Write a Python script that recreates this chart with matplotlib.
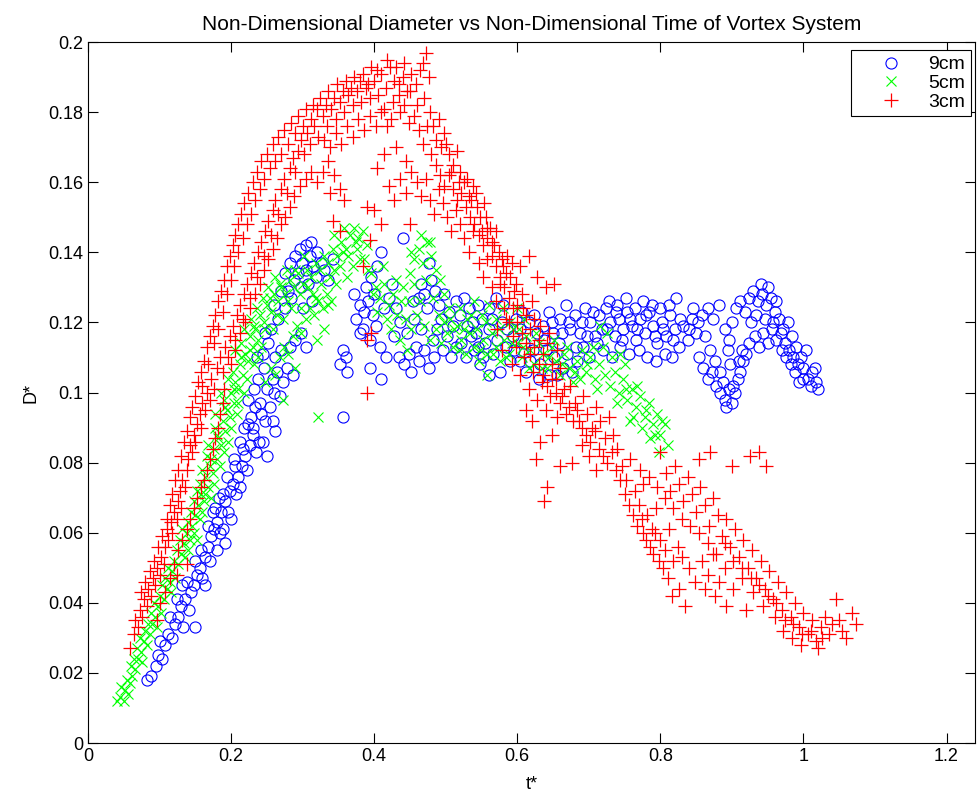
import matplotlib
matplotlib.use("Agg")
import matplotlib.pyplot as plt
import numpy as np

plt.rcParams['font.family'] = ['Liberation Sans', 'DejaVu Sans']

# (t*, D*) points, one list per nozzle size
pts_9cm = [
    (0.082, 0.018), (0.088, 0.019), (0.095, 0.022), (0.098, 0.025), (0.104, 0.024), (0.108, 0.028),
    (0.112, 0.031), (0.118, 0.030), (0.121, 0.034), (0.126, 0.036), (0.133, 0.033), (0.149, 0.033),
    (0.130, 0.039), (0.136, 0.041), (0.141, 0.038), (0.144, 0.043), (0.139, 0.046), (0.148, 0.045),
    (0.152, 0.048), (0.156, 0.050), (0.160, 0.047), (0.163, 0.053), (0.158, 0.055), (0.167, 0.056),
    (0.170, 0.052), (0.172, 0.059), (0.176, 0.061), (0.168, 0.062), (0.180, 0.063), (0.184, 0.060),
    (0.186, 0.066), (0.189, 0.061), (0.178, 0.067), (0.192, 0.069), (0.196, 0.066), (0.198, 0.072),
    (0.188, 0.071), (0.202, 0.074), (0.207, 0.071), (0.210, 0.076), (0.212, 0.073), (0.194, 0.076),
    (0.215, 0.079), (0.219, 0.082), (0.222, 0.078), (0.204, 0.081), (0.226, 0.085), (0.230, 0.088),
    (0.235, 0.083), (0.239, 0.086), (0.244, 0.086), (0.250, 0.082), (0.213, 0.086), (0.218, 0.090),
    (0.228, 0.093), (0.234, 0.096), (0.224, 0.098), (0.242, 0.094), (0.248, 0.092), (0.254, 0.096),
    (0.260, 0.100), (0.268, 0.099), (0.232, 0.101), (0.238, 0.104), (0.246, 0.107), (0.258, 0.104),
    (0.264, 0.106), (0.272, 0.103), (0.278, 0.107), (0.286, 0.105), (0.244, 0.111), (0.252, 0.114),
    (0.262, 0.110), (0.270, 0.112), (0.282, 0.113), (0.290, 0.115), (0.297, 0.117), (0.304, 0.113),
    (0.256, 0.118), (0.266, 0.121), (0.276, 0.124), (0.279, 0.129), (0.284, 0.127), (0.288, 0.132),
    (0.294, 0.134), (0.299, 0.137), (0.305, 0.135), (0.310, 0.139), (0.315, 0.136), (0.320, 0.140),
    (0.298, 0.130), (0.308, 0.131), (0.318, 0.133), (0.325, 0.137), (0.330, 0.135), (0.336, 0.132),
    (0.342, 0.138), (0.300, 0.124), (0.313, 0.126),
    (0.100, 0.029), (0.114, 0.036), (0.124, 0.041), (0.132, 0.045), (0.150, 0.052), (0.174, 0.066),
    (0.183, 0.070), (0.206, 0.079), (0.216, 0.084), (0.223, 0.091), (0.231, 0.090), (0.240, 0.097),
    (0.250, 0.101), (0.236, 0.110), (0.248, 0.117), (0.260, 0.125), (0.270, 0.129), (0.275, 0.134),
    (0.283, 0.137), (0.290, 0.139), (0.296, 0.141), (0.304, 0.142), (0.312, 0.143), (0.258, 0.092),
    (0.262, 0.089), (0.200, 0.064), (0.192, 0.057), (0.180, 0.055), (0.164, 0.045),
    (0.352, 0.108), (0.356, 0.112), (0.360, 0.110), (0.356, 0.093), (0.362, 0.106), (0.375, 0.121),
    (0.380, 0.125), (0.386, 0.123), (0.392, 0.126), (0.398, 0.122), (0.384, 0.118), (0.394, 0.115),
    (0.402, 0.119), (0.388, 0.130), (0.396, 0.133), (0.404, 0.136), (0.410, 0.140), (0.394, 0.107),
    (0.410, 0.104), (0.416, 0.110), (0.420, 0.127), (0.425, 0.131), (0.430, 0.124), (0.436, 0.120),
    (0.440, 0.144), (0.442, 0.108), (0.448, 0.111), (0.452, 0.106), (0.458, 0.113), (0.446, 0.117),
    (0.455, 0.121), (0.462, 0.127), (0.466, 0.131), (0.470, 0.128), (0.474, 0.124), (0.477, 0.137),
    (0.480, 0.132), (0.485, 0.129), (0.490, 0.125), (0.494, 0.121), (0.462, 0.109), (0.470, 0.112),
    (0.476, 0.107), (0.482, 0.115), (0.488, 0.118), (0.498, 0.128), (0.504, 0.123), (0.510, 0.119),
    (0.515, 0.126), (0.520, 0.122), (0.526, 0.127), (0.532, 0.124), (0.538, 0.120), (0.545, 0.125),
    (0.550, 0.121), (0.522, 0.114), (0.528, 0.110), (0.535, 0.116), (0.540, 0.112), (0.548, 0.108),
    (0.555, 0.114), (0.560, 0.118), (0.566, 0.111), (0.572, 0.115), (0.578, 0.120), (0.584, 0.113),
    (0.590, 0.109), (0.594, 0.116), (0.560, 0.124), (0.570, 0.127), (0.580, 0.125), (0.598, 0.121),
    (0.604, 0.118), (0.610, 0.114), (0.616, 0.120), (0.622, 0.112), (0.628, 0.117), (0.604, 0.109),
    (0.612, 0.106), (0.560, 0.105), (0.545, 0.113),
    (0.372, 0.128), (0.380, 0.117), (0.400, 0.128), (0.408, 0.113), (0.414, 0.124), (0.428, 0.116),
    (0.434, 0.110), (0.454, 0.126), (0.466, 0.118), (0.484, 0.110), (0.496, 0.112), (0.502, 0.116),
    (0.508, 0.110), (0.514, 0.113), (0.530, 0.119), (0.542, 0.117), (0.552, 0.110), (0.564, 0.121),
    (0.576, 0.106), (0.586, 0.118), (0.596, 0.112), (0.606, 0.123), (0.618, 0.109), (0.624, 0.122),
    (0.632, 0.108), (0.640, 0.112), (0.646, 0.105), (0.652, 0.110), (0.658, 0.114), (0.664, 0.107),
    (0.670, 0.111), (0.676, 0.106), (0.684, 0.109), (0.692, 0.113), (0.700, 0.110), (0.636, 0.119),
    (0.644, 0.123), (0.650, 0.117), (0.660, 0.121), (0.668, 0.125), (0.674, 0.118), (0.680, 0.122),
    (0.688, 0.117), (0.694, 0.124), (0.702, 0.120), (0.708, 0.116), (0.714, 0.122), (0.718, 0.118),
    (0.724, 0.124), (0.730, 0.120), (0.736, 0.116), (0.742, 0.121), (0.748, 0.118), (0.754, 0.123),
    (0.760, 0.119), (0.766, 0.115), (0.772, 0.121), (0.778, 0.117), (0.784, 0.123), (0.790, 0.119),
    (0.796, 0.114), (0.802, 0.120), (0.808, 0.116), (0.814, 0.122), (0.820, 0.118), (0.822, 0.127),
    (0.826, 0.113), (0.832, 0.119), (0.838, 0.115), (0.844, 0.121), (0.850, 0.117), (0.720, 0.112),
    (0.732, 0.110), (0.744, 0.113), (0.756, 0.111), (0.770, 0.112), (0.782, 0.110), (0.794, 0.109),
    (0.806, 0.111), (0.816, 0.110), (0.728, 0.126), (0.740, 0.125), (0.752, 0.127), (0.764, 0.124),
    (0.776, 0.126), (0.788, 0.125), (0.800, 0.124), (0.812, 0.125),
    (0.630, 0.104), (0.638, 0.115), (0.648, 0.120), (0.656, 0.105), (0.662, 0.117), (0.672, 0.120),
    (0.682, 0.113), (0.690, 0.120), (0.698, 0.116), (0.706, 0.123), (0.712, 0.114), (0.726, 0.118),
    (0.738, 0.123), (0.746, 0.115), (0.758, 0.121), (0.768, 0.118), (0.780, 0.122), (0.792, 0.116),
    (0.804, 0.118), (0.818, 0.115), (0.828, 0.121), (0.840, 0.118), (0.846, 0.124), (0.852, 0.120),
    (0.854, 0.110), (0.860, 0.107), (0.866, 0.104), (0.872, 0.106), (0.878, 0.102), (0.884, 0.100),
    (0.890, 0.098), (0.896, 0.101), (0.900, 0.097), (0.904, 0.100), (0.908, 0.104), (0.912, 0.106),
    (0.916, 0.109), (0.920, 0.111), (0.924, 0.114), (0.862, 0.116), (0.870, 0.112), (0.876, 0.109),
    (0.884, 0.106), (0.888, 0.103), (0.892, 0.096), (0.902, 0.102), (0.910, 0.109), (0.914, 0.112),
    (0.858, 0.122), (0.866, 0.124), (0.874, 0.121), (0.882, 0.125), (0.890, 0.118), (0.896, 0.115),
    (0.900, 0.120), (0.906, 0.124), (0.912, 0.126), (0.918, 0.123), (0.924, 0.127), (0.930, 0.129),
    (0.936, 0.126), (0.942, 0.128), (0.948, 0.125), (0.954, 0.127), (0.960, 0.123), (0.966, 0.121),
    (0.972, 0.118), (0.978, 0.120), (0.984, 0.116), (0.990, 0.113), (0.996, 0.110), (1.000, 0.107),
    (1.006, 0.104), (1.012, 0.106), (1.018, 0.103), (1.020, 0.101), (0.994, 0.103), (1.004, 0.112),
    (0.932, 0.116), (0.938, 0.113), (0.944, 0.117), (0.950, 0.114), (0.956, 0.118), (0.962, 0.115),
    (0.970, 0.112), (0.976, 0.110), (0.982, 0.108), (0.988, 0.106), (0.894, 0.112), (0.898, 0.108),
    (0.926, 0.120), (0.934, 0.122), (0.946, 0.121), (0.958, 0.120), (0.968, 0.117), (0.974, 0.114),
    (0.980, 0.112), (0.986, 0.110), (0.992, 0.108), (1.000, 0.104), (1.010, 0.102), (1.016, 0.107),
    (0.940, 0.131), (0.950, 0.130), (0.962, 0.126),
]

pts_5cm = [
    (0.040, 0.012), (0.045, 0.013), (0.050, 0.012), (0.052, 0.015), (0.056, 0.014), (0.058, 0.017),
    (0.062, 0.019), (0.060, 0.022), (0.066, 0.021), (0.070, 0.024), (0.068, 0.027), (0.074, 0.026),
    (0.078, 0.029), (0.082, 0.028), (0.080, 0.032), (0.086, 0.031), (0.090, 0.034), (0.088, 0.037),
    (0.094, 0.036), (0.098, 0.039), (0.102, 0.037), (0.100, 0.042), (0.106, 0.041), (0.110, 0.044),
    (0.108, 0.047), (0.114, 0.046), (0.118, 0.049), (0.122, 0.047), (0.120, 0.052), (0.126, 0.051),
    (0.130, 0.054), (0.128, 0.058), (0.134, 0.057), (0.138, 0.060), (0.142, 0.058), (0.140, 0.063),
    (0.146, 0.062), (0.150, 0.065), (0.148, 0.069), (0.154, 0.068), (0.158, 0.071), (0.162, 0.069),
    (0.156, 0.074), (0.164, 0.076), (0.168, 0.073), (0.170, 0.079), (0.174, 0.077), (0.166, 0.082),
    (0.176, 0.084), (0.180, 0.081), (0.182, 0.087), (0.186, 0.085), (0.178, 0.090), (0.188, 0.092),
    (0.192, 0.089), (0.194, 0.095), (0.198, 0.093), (0.190, 0.098), (0.200, 0.100), (0.204, 0.097),
    (0.206, 0.103), (0.210, 0.101), (0.202, 0.106), (0.212, 0.108), (0.216, 0.105), (0.220, 0.111),
    (0.224, 0.109), (0.214, 0.114), (0.226, 0.116), (0.230, 0.113), (0.234, 0.118), (0.238, 0.115),
    (0.228, 0.121), (0.240, 0.122), (0.246, 0.120), (0.250, 0.125), (0.256, 0.123), (0.244, 0.127),
    (0.260, 0.128), (0.266, 0.126), (0.270, 0.130), (0.276, 0.128), (0.282, 0.132), (0.288, 0.130),
    (0.294, 0.134), (0.300, 0.131), (0.306, 0.135), (0.312, 0.133), (0.318, 0.137), (0.324, 0.135),
    (0.330, 0.139), (0.336, 0.137), (0.342, 0.141), (0.348, 0.139), (0.354, 0.143), (0.360, 0.141),
    (0.366, 0.145), (0.372, 0.147), (0.378, 0.144), (0.384, 0.146), (0.390, 0.142), (0.380, 0.138),
    (0.370, 0.136),
    (0.046, 0.016), (0.054, 0.018), (0.064, 0.024), (0.072, 0.030), (0.076, 0.023), (0.084, 0.034),
    (0.092, 0.040), (0.096, 0.033), (0.104, 0.045), (0.112, 0.050), (0.116, 0.043), (0.124, 0.055),
    (0.132, 0.061), (0.136, 0.053), (0.144, 0.066), (0.152, 0.072), (0.156, 0.064), (0.160, 0.078),
    (0.168, 0.085), (0.172, 0.070), (0.184, 0.079), (0.178, 0.094), (0.186, 0.100), (0.196, 0.086),
    (0.196, 0.104), (0.208, 0.094), (0.206, 0.112), (0.218, 0.100), (0.218, 0.118), (0.232, 0.108),
    (0.236, 0.124), (0.242, 0.113), (0.252, 0.130), (0.258, 0.118), (0.262, 0.133), (0.272, 0.121),
    (0.278, 0.135), (0.284, 0.124), (0.296, 0.128), (0.302, 0.139), (0.314, 0.128), (0.326, 0.131),
    (0.338, 0.133), (0.344, 0.145), (0.352, 0.136), (0.358, 0.147), (0.364, 0.139), (0.376, 0.141),
    (0.386, 0.138), (0.392, 0.135),
    (0.140, 0.055), (0.148, 0.060), (0.152, 0.058), (0.160, 0.066), (0.164, 0.071), (0.172, 0.081),
    (0.176, 0.074), (0.180, 0.088), (0.190, 0.083), (0.192, 0.096), (0.200, 0.090), (0.204, 0.101),
    (0.210, 0.097), (0.214, 0.110), (0.222, 0.104), (0.226, 0.112), (0.232, 0.119), (0.238, 0.110),
    (0.248, 0.118), (0.254, 0.127), (0.264, 0.122), (0.268, 0.131), (0.280, 0.126), (0.290, 0.135),
    (0.298, 0.124), (0.308, 0.130), (0.318, 0.127), (0.336, 0.125), (0.344, 0.135), (0.356, 0.140),
    (0.362, 0.133), (0.374, 0.143),
    (0.248, 0.103), (0.256, 0.107), (0.262, 0.105), (0.268, 0.110), (0.274, 0.113), (0.280, 0.111),
    (0.286, 0.116), (0.292, 0.119), (0.298, 0.117), (0.304, 0.121), (0.310, 0.124), (0.316, 0.122),
    (0.322, 0.126), (0.328, 0.124), (0.334, 0.128), (0.340, 0.126), (0.346, 0.131), (0.320, 0.115),
    (0.330, 0.118), (0.321, 0.093), (0.272, 0.098), (0.290, 0.107),
    (0.396, 0.134), (0.402, 0.130), (0.408, 0.127), (0.414, 0.131), (0.420, 0.125), (0.426, 0.128),
    (0.432, 0.122), (0.438, 0.126), (0.444, 0.121), (0.450, 0.134), (0.456, 0.138), (0.462, 0.141),
    (0.468, 0.137), (0.474, 0.143), (0.480, 0.139), (0.486, 0.135), (0.492, 0.132), (0.498, 0.128),
    (0.504, 0.124), (0.452, 0.118), (0.460, 0.122), (0.470, 0.119), (0.478, 0.115), (0.486, 0.118),
    (0.494, 0.114), (0.502, 0.117), (0.510, 0.113), (0.516, 0.119), (0.522, 0.115), (0.528, 0.111),
    (0.534, 0.117), (0.540, 0.113), (0.546, 0.109), (0.552, 0.115), (0.558, 0.111), (0.557, 0.105),
    (0.564, 0.117), (0.570, 0.113), (0.576, 0.109), (0.582, 0.115), (0.588, 0.111), (0.594, 0.118),
    (0.600, 0.114), (0.606, 0.110), (0.612, 0.116), (0.618, 0.112), (0.624, 0.108), (0.630, 0.114),
    (0.520, 0.124), (0.530, 0.121), (0.540, 0.126), (0.550, 0.122), (0.560, 0.125), (0.570, 0.121),
    (0.580, 0.124), (0.590, 0.120), (0.600, 0.124), (0.610, 0.121), (0.412, 0.136), (0.424, 0.118),
    (0.436, 0.115), (0.446, 0.112),
    (0.398, 0.128), (0.404, 0.123), (0.418, 0.121), (0.430, 0.132), (0.440, 0.130), (0.448, 0.126),
    (0.456, 0.131), (0.464, 0.126), (0.472, 0.132), (0.482, 0.127), (0.490, 0.122), (0.498, 0.120),
    (0.506, 0.121), (0.512, 0.118), (0.518, 0.112), (0.526, 0.118), (0.536, 0.122), (0.544, 0.118),
    (0.548, 0.112), (0.556, 0.120), (0.566, 0.111), (0.574, 0.118), (0.584, 0.110), (0.592, 0.114),
    (0.602, 0.118), (0.608, 0.113), (0.616, 0.107), (0.626, 0.117), (0.478, 0.143), (0.466, 0.145),
    (0.452, 0.140),
    (0.636, 0.111), (0.642, 0.107), (0.648, 0.113), (0.654, 0.109), (0.660, 0.105), (0.666, 0.111),
    (0.672, 0.107), (0.678, 0.103), (0.684, 0.109), (0.690, 0.112), (0.696, 0.106), (0.702, 0.110),
    (0.708, 0.104), (0.714, 0.108), (0.720, 0.113), (0.726, 0.117), (0.716, 0.119), (0.730, 0.102),
    (0.736, 0.106), (0.742, 0.100), (0.748, 0.104), (0.754, 0.098), (0.760, 0.101), (0.766, 0.096),
    (0.772, 0.099), (0.778, 0.093), (0.784, 0.097), (0.790, 0.091), (0.796, 0.094), (0.800, 0.088),
    (0.806, 0.091), (0.810, 0.085), (0.798, 0.083), (0.786, 0.087), (0.774, 0.090), (0.762, 0.093),
    (0.750, 0.108), (0.744, 0.111),
    (0.634, 0.107), (0.644, 0.110), (0.652, 0.115), (0.662, 0.108), (0.670, 0.113), (0.680, 0.106),
    (0.688, 0.104), (0.698, 0.108), (0.706, 0.113), (0.712, 0.101), (0.722, 0.105), (0.732, 0.110),
    (0.740, 0.097), (0.752, 0.101), (0.758, 0.092), (0.768, 0.102), (0.780, 0.095), (0.792, 0.088),
    (0.802, 0.092),
]

pts_3cm = [
    (0.059, 0.027), (0.064, 0.031), (0.066, 0.035), (0.070, 0.033), (0.072, 0.038), (0.076, 0.036),
    (0.078, 0.041), (0.082, 0.039), (0.084, 0.044), (0.088, 0.042), (0.091, 0.047), (0.094, 0.045),
    (0.096, 0.050), (0.100, 0.048), (0.102, 0.053), (0.106, 0.051), (0.108, 0.056), (0.110, 0.061),
    (0.112, 0.058), (0.116, 0.063), (0.118, 0.060), (0.120, 0.066), (0.124, 0.064), (0.126, 0.069),
    (0.128, 0.072), (0.130, 0.067), (0.132, 0.075), (0.136, 0.073), (0.138, 0.078), (0.140, 0.081),
    (0.142, 0.085), (0.146, 0.083), (0.148, 0.088), (0.150, 0.086), (0.152, 0.091), (0.156, 0.094),
    (0.158, 0.090), (0.160, 0.097), (0.164, 0.095), (0.166, 0.100), (0.170, 0.098),
    (0.100, 0.040), (0.108, 0.043), (0.114, 0.047), (0.120, 0.051), (0.126, 0.055), (0.132, 0.058),
    (0.138, 0.061), (0.142, 0.064), (0.148, 0.067), (0.152, 0.070), (0.158, 0.073), (0.162, 0.075),
    (0.166, 0.078), (0.170, 0.081), (0.174, 0.084), (0.178, 0.087), (0.182, 0.090), (0.184, 0.094),
    (0.188, 0.097), (0.190, 0.101), (0.125, 0.048), (0.138, 0.051), (0.096, 0.035),
    (0.074, 0.043), (0.080, 0.046), (0.086, 0.049), (0.092, 0.052), (0.098, 0.056), (0.104, 0.059),
    (0.110, 0.064), (0.114, 0.068), (0.118, 0.071), (0.122, 0.075), (0.126, 0.078), (0.130, 0.082),
    (0.134, 0.086), (0.138, 0.089), (0.142, 0.093), (0.146, 0.096), (0.150, 0.099), (0.154, 0.103),
    (0.158, 0.106), (0.162, 0.109), (0.166, 0.113), (0.170, 0.116), (0.174, 0.119), (0.178, 0.122),
    (0.182, 0.126), (0.186, 0.129), (0.190, 0.132), (0.194, 0.136), (0.198, 0.139), (0.202, 0.142),
    (0.206, 0.145), (0.210, 0.148), (0.214, 0.151), (0.218, 0.154), (0.224, 0.157), (0.230, 0.160),
    (0.236, 0.163), (0.242, 0.166), (0.250, 0.168), (0.258, 0.171), (0.266, 0.173), (0.274, 0.175),
    (0.284, 0.177), (0.294, 0.179), (0.304, 0.181), (0.314, 0.182), (0.324, 0.184), (0.336, 0.186),
    (0.348, 0.188), (0.360, 0.189), (0.372, 0.190), (0.384, 0.191), (0.396, 0.193), (0.418, 0.195),
    (0.430, 0.193), (0.442, 0.194),
    (0.160, 0.102), (0.168, 0.108), (0.176, 0.114), (0.182, 0.118), (0.188, 0.123), (0.194, 0.128),
    (0.200, 0.132), (0.204, 0.136), (0.210, 0.140), (0.216, 0.144), (0.222, 0.148), (0.228, 0.151),
    (0.234, 0.155), (0.240, 0.158), (0.246, 0.161), (0.254, 0.164), (0.262, 0.166), (0.270, 0.168),
    (0.280, 0.171), (0.290, 0.174), (0.300, 0.176), (0.312, 0.178), (0.320, 0.181), (0.332, 0.182),
    (0.344, 0.184), (0.356, 0.186), (0.368, 0.187), (0.380, 0.189), (0.392, 0.188), (0.404, 0.192),
    (0.172, 0.104), (0.176, 0.101), (0.180, 0.107), (0.184, 0.110), (0.188, 0.106), (0.192, 0.113),
    (0.196, 0.110), (0.198, 0.116), (0.202, 0.119), (0.206, 0.115), (0.208, 0.122), (0.212, 0.125),
    (0.216, 0.121), (0.218, 0.128), (0.222, 0.131), (0.226, 0.127), (0.228, 0.134), (0.232, 0.137),
    (0.236, 0.133), (0.238, 0.140), (0.242, 0.143), (0.246, 0.139), (0.248, 0.146), (0.252, 0.149),
    (0.256, 0.145), (0.258, 0.152), (0.262, 0.155), (0.266, 0.151), (0.270, 0.158), (0.274, 0.161),
    (0.278, 0.157), (0.282, 0.164), (0.286, 0.167), (0.290, 0.163), (0.294, 0.169), (0.298, 0.172),
    (0.302, 0.168), (0.306, 0.174), (0.310, 0.171), (0.316, 0.176), (0.322, 0.173), (0.328, 0.179),
    (0.334, 0.176), (0.340, 0.181), (0.346, 0.178), (0.352, 0.183), (0.358, 0.180), (0.364, 0.185),
    (0.370, 0.182), (0.376, 0.186), (0.382, 0.183), (0.388, 0.187), (0.394, 0.184), (0.400, 0.189),
    (0.406, 0.185),
    (0.200, 0.108), (0.206, 0.112), (0.212, 0.117), (0.220, 0.120), (0.226, 0.124), (0.234, 0.128),
    (0.240, 0.131), (0.246, 0.135), (0.252, 0.138), (0.258, 0.141), (0.264, 0.144), (0.270, 0.148),
    (0.276, 0.150), (0.282, 0.153), (0.288, 0.156), (0.296, 0.159), (0.304, 0.161), (0.312, 0.163),
    (0.320, 0.160), (0.328, 0.163), (0.336, 0.166), (0.344, 0.162), (0.352, 0.158), (0.358, 0.155),
    (0.342, 0.149), (0.352, 0.146), (0.384, 0.136), (0.394, 0.1435), (0.390, 0.153), (0.390, 0.115),
    (0.396, 0.117), (0.390, 0.100),
    (0.330, 0.172), (0.338, 0.170), (0.346, 0.174), (0.354, 0.171), (0.362, 0.176), (0.370, 0.173),
    (0.378, 0.178), (0.386, 0.175), (0.394, 0.179), (0.402, 0.176), (0.410, 0.180), (0.418, 0.176),
    (0.426, 0.183), (0.434, 0.188), (0.442, 0.182), (0.450, 0.186), (0.456, 0.179), (0.462, 0.175),
    (0.468, 0.171), (0.474, 0.176),
    (0.410, 0.191), (0.416, 0.187), (0.422, 0.193), (0.428, 0.189), (0.434, 0.185), (0.440, 0.190),
    (0.446, 0.186), (0.452, 0.191), (0.458, 0.188), (0.464, 0.192), (0.468, 0.194), (0.473, 0.197),
    (0.476, 0.190), (0.414, 0.181), (0.424, 0.178), (0.436, 0.180), (0.448, 0.177), (0.460, 0.182),
    (0.470, 0.184), (0.478, 0.180),
    (0.482, 0.176), (0.486, 0.172), (0.490, 0.178), (0.494, 0.170), (0.498, 0.174), (0.504, 0.168),
    (0.510, 0.165), (0.516, 0.169), (0.520, 0.163), (0.526, 0.160), (0.532, 0.156), (0.538, 0.159),
    (0.544, 0.153), (0.548, 0.150), (0.554, 0.154), (0.558, 0.147), (0.564, 0.143), (0.570, 0.146),
    (0.574, 0.140), (0.580, 0.136), (0.586, 0.139), (0.590, 0.133), (0.596, 0.129), (0.600, 0.125),
    (0.606, 0.128), (0.612, 0.122), (0.618, 0.118), (0.624, 0.121), (0.630, 0.115), (0.636, 0.111),
    (0.642, 0.114), (0.648, 0.108), (0.654, 0.104), (0.660, 0.107), (0.604, 0.136), (0.616, 0.139),
    (0.628, 0.133), (0.640, 0.130), (0.652, 0.131),
    (0.500, 0.171), (0.508, 0.163), (0.518, 0.160), (0.530, 0.161), (0.536, 0.155), (0.542, 0.157),
    (0.550, 0.146), (0.556, 0.150), (0.562, 0.147), (0.568, 0.142), (0.578, 0.138), (0.584, 0.134),
    (0.592, 0.137), (0.598, 0.131), (0.608, 0.124), (0.620, 0.126), (0.632, 0.119), (0.644, 0.117),
    (0.656, 0.112),
    (0.480, 0.168), (0.486, 0.165), (0.492, 0.162), (0.498, 0.159), (0.504, 0.162), (0.510, 0.158),
    (0.516, 0.155), (0.522, 0.157), (0.528, 0.153), (0.534, 0.150), (0.540, 0.148), (0.546, 0.145),
    (0.552, 0.142), (0.558, 0.144), (0.564, 0.139), (0.570, 0.136), (0.576, 0.133), (0.582, 0.130),
    (0.588, 0.127), (0.594, 0.124), (0.600, 0.120), (0.606, 0.117), (0.612, 0.114), (0.618, 0.111),
    (0.624, 0.113), (0.630, 0.108), (0.636, 0.105), (0.642, 0.102), (0.648, 0.104), (0.654, 0.100),
    (0.420, 0.159), (0.428, 0.155), (0.436, 0.161), (0.444, 0.157), (0.452, 0.163), (0.460, 0.160),
    (0.466, 0.156), (0.472, 0.161), (0.478, 0.155), (0.484, 0.151), (0.490, 0.158), (0.496, 0.154),
    (0.502, 0.150), (0.508, 0.146), (0.514, 0.152), (0.520, 0.148), (0.526, 0.144), (0.532, 0.140),
    (0.538, 0.146), (0.546, 0.137), (0.552, 0.133), (0.558, 0.138), (0.564, 0.130), (0.570, 0.126),
    (0.576, 0.131), (0.582, 0.124), (0.588, 0.120), (0.594, 0.116), (0.400, 0.152), (0.410, 0.148),
    (0.404, 0.164), (0.414, 0.168), (0.430, 0.170), (0.445, 0.166), (0.338, 0.157), (0.450, 0.148),
    (0.572, 0.118), (0.578, 0.112), (0.584, 0.121), (0.592, 0.108), (0.598, 0.113), (0.604, 0.105),
    (0.610, 0.110), (0.616, 0.101), (0.622, 0.106), (0.628, 0.098), (0.634, 0.103), (0.640, 0.095),
    (0.646, 0.099), (0.612, 0.095), (0.620, 0.092), (0.632, 0.086), (0.638, 0.069), (0.642, 0.073),
    (0.626, 0.081), (0.648, 0.088), (0.656, 0.093), (0.662, 0.099), (0.668, 0.094), (0.674, 0.102),
    (0.680, 0.097), (0.686, 0.092), (0.692, 0.099), (0.698, 0.094), (0.704, 0.090), (0.710, 0.096),
    (0.716, 0.092), (0.722, 0.087), (0.728, 0.093), (0.734, 0.088), (0.740, 0.084), (0.660, 0.079),
    (0.676, 0.080), (0.710, 0.078), (0.690, 0.085), (0.700, 0.082),
    (0.660, 0.097), (0.666, 0.101), (0.672, 0.096), (0.678, 0.092), (0.684, 0.095), (0.690, 0.090),
    (0.696, 0.088), (0.702, 0.086), (0.708, 0.089), (0.714, 0.084), (0.720, 0.082), (0.726, 0.080),
    (0.732, 0.083), (0.738, 0.078), (0.744, 0.075), (0.750, 0.071), (0.756, 0.068), (0.762, 0.065),
    (0.768, 0.062), (0.774, 0.064), (0.780, 0.058), (0.786, 0.056), (0.792, 0.060), (0.798, 0.052),
    (0.804, 0.050),
    (0.746, 0.079), (0.752, 0.075), (0.758, 0.081), (0.764, 0.072), (0.770, 0.068), (0.776, 0.074),
    (0.782, 0.065), (0.788, 0.061), (0.794, 0.067), (0.800, 0.058), (0.806, 0.055), (0.812, 0.061),
    (0.818, 0.052), (0.824, 0.056), (0.810, 0.047), (0.816, 0.042), (0.826, 0.044), (0.834, 0.039),
    (0.790, 0.054), (0.776, 0.060),
    (0.800, 0.083), (0.808, 0.077), (0.814, 0.072), (0.820, 0.079), (0.826, 0.074), (0.832, 0.069),
    (0.838, 0.076), (0.844, 0.071), (0.850, 0.066), (0.856, 0.073), (0.862, 0.068), (0.868, 0.062),
    (0.874, 0.070), (0.880, 0.065), (0.886, 0.059), (0.892, 0.064), (0.898, 0.056), (0.904, 0.061),
    (0.910, 0.053), (0.916, 0.058), (0.922, 0.050), (0.928, 0.055), (0.934, 0.047), (0.940, 0.052),
    (0.946, 0.044), (0.952, 0.049), (0.958, 0.041), (0.964, 0.046), (0.970, 0.038), (0.976, 0.043),
    (0.982, 0.036), (0.988, 0.040), (0.994, 0.033), (1.000, 0.037), (1.006, 0.031), (1.012, 0.035),
    (1.018, 0.029), (1.024, 0.033), (1.030, 0.036), (1.036, 0.031), (1.045, 0.041), (1.050, 0.035),
    (1.060, 0.030), (1.068, 0.037), (1.074, 0.034), (1.020, 0.027),
    (0.772, 0.078), (0.784, 0.076), (0.796, 0.073), (0.806, 0.070), (0.818, 0.067), (0.830, 0.064),
    (0.842, 0.062), (0.854, 0.060), (0.866, 0.057), (0.878, 0.054), (0.890, 0.057), (0.902, 0.052),
    (0.914, 0.050), (0.926, 0.047), (0.938, 0.045), (0.950, 0.042), (0.962, 0.040), (0.974, 0.035),
    (0.986, 0.034), (0.998, 0.031), (1.010, 0.032), (1.026, 0.030), (1.040, 0.034), (1.054, 0.032),
    (0.862, 0.044), (0.876, 0.042), (0.848, 0.046), (0.840, 0.050), (0.830, 0.053),
    (0.854, 0.081), (0.870, 0.083), (0.900, 0.079), (0.925, 0.082), (0.938, 0.083), (0.948, 0.079),
    (0.858, 0.052), (0.866, 0.048), (0.874, 0.054), (0.882, 0.046), (0.890, 0.050), (0.892, 0.039),
    (0.920, 0.038), (0.902, 0.044), (0.914, 0.047), (0.930, 0.043), (0.944, 0.039), (0.960, 0.036),
    (0.972, 0.032), (0.984, 0.030), (0.996, 0.028),
]

t9, d9 = np.array(pts_9cm).T
t5, d5 = np.array(pts_5cm).T
t3, d3 = np.array(pts_3cm).T

fig = plt.figure(figsize=(9.77, 7.98), dpi=100)
ax = fig.add_axes([0.0901, 0.0689, 0.908, 0.8784])

ax.plot(t9, d9, 'o', mfc='none', mec=(0, 0, 1), ms=8, mew=0.8, label='9cm')
ax.plot(t5, d5, 'x', color=(0, 1, 0), ms=6.5, mew=0.8, label='5cm')
ax.plot(t3, d3, '+', color=(1, 0, 0), ms=10, mew=0.9, label='3cm')

ax.set_xlim(0, 1.24)
ax.set_ylim(0, 0.2)
ax.set_xticks([0, 0.2, 0.4, 0.6, 0.8, 1.0, 1.2])
ax.set_xticklabels(['0', '0.2', '0.4', '0.6', '0.8', '1', '1.2'])
ax.set_yticks(np.arange(0, 0.201, 0.02))
ax.set_yticklabels(['0', '0.02', '0.04', '0.06', '0.08', '0.1', '0.12', '0.14', '0.16', '0.18', '0.2'])
ax.tick_params(direction='in', length=7, width=0.8, top=True, right=True, labelsize=13)
for s in ax.spines.values():
    s.set_linewidth(0.8)

ax.set_title('Non-Dimensional Diameter vs Non-Dimensional Time of Vortex System', fontsize=15, pad=9)
ax.set_xlabel('t*', fontsize=13, labelpad=8)
ax.set_ylabel('D*', fontsize=13, labelpad=6)

leg = ax.legend(loc='upper right', bbox_to_anchor=(0.9955, 0.9886), borderaxespad=0,
                fancybox=False, edgecolor='black', framealpha=1, fontsize=14,
                handlelength=3.6, handletextpad=0.1, borderpad=0.3, labelspacing=0.05)
leg.get_frame().set_linewidth(0.8)

fig.savefig('out.png', dpi=100)
